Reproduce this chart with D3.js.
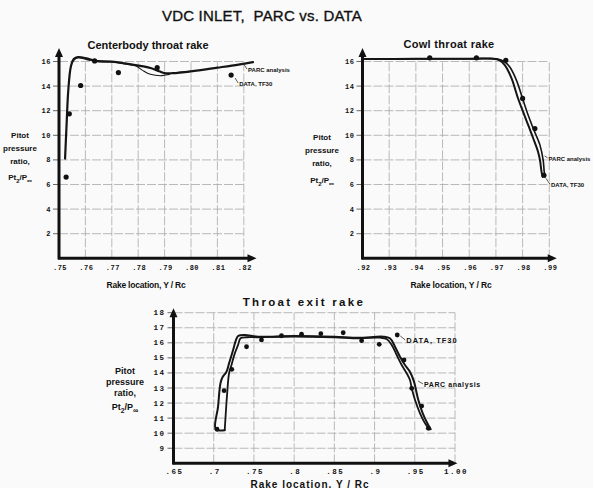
<!DOCTYPE html>
<html><head><meta charset="utf-8">
<script src="https://cdn.jsdelivr.net/npm/d3@7"></script>
<style>
html,body{margin:0;padding:0;background:#fafafa;}
svg{display:block;}
text{font-family:"Liberation Sans",Arial,sans-serif;fill:#111;white-space:pre;}
</style></head>
<body>
<svg id="c" width="593" height="488"></svg>
<script>
// ---------- DATA ----------
const mainTitle = "VDC INLET,  PARC vs. DATA";
const yLabelLines = ["Pitot", "pressure", "ratio,"];

// Centerbody throat rake
const cbTitle = "Centerbody throat rake";
const cbTicksX = [0.75, 0.76, 0.77, 0.78, 0.79, 0.80, 0.81, 0.82];
const cbTickLabelsX = [".75", ".76", ".77", ".78", ".79", ".80", ".81", ".82"];
const topTicksY = [2, 4, 6, 8, 10, 12, 14, 16];
const topTickLabelsY = ["2", "4", "6", "8", "10", "12", "14", "16"];
const cbDataX = [0.7527, 0.7539, 0.7582, 0.7635, 0.7725, 0.7872, 0.8152];
const cbDataY = [6.6, 11.75, 14.05, 16.05, 15.1, 15.5, 14.9];
const cbParcAX = [0.7523, 0.7529, 0.7535, 0.7545, 0.7556, 0.7572, 0.7605, 0.764, 0.770, 0.775, 0.779, 0.782, 0.785, 0.788, 0.790, 0.793, 0.800, 0.810, 0.818, 0.8235];
const cbParcAY = [8.1, 11.0, 13.6, 15.6, 16.2, 16.35, 16.25, 16.05, 16.0, 15.85, 15.7, 15.6, 15.45, 15.2, 15.05, 15.05, 15.2, 15.5, 15.75, 15.95];
const cbParcBX = [0.7545, 0.7556, 0.7572, 0.7605, 0.764, 0.770, 0.775, 0.779, 0.7815, 0.784, 0.7865, 0.789, 0.791, 0.793, 0.800];
const cbParcBY = [15.6, 16.1, 16.3, 16.15, 16.0, 15.95, 15.8, 15.65, 15.3, 15.0, 14.88, 14.85, 14.92, 15.05, 15.2];

// Cowl throat rake
const cwTitle = "Cowl throat rake";
const cwTicksX = [0.92, 0.93, 0.94, 0.95, 0.96, 0.97, 0.98, 0.99];
const cwTickLabelsX = [".92", ".93", ".94", ".95", ".96", ".97", ".98", ".99"];
const cwDataX = [0.9452, 0.9627, 0.9737, 0.9800, 0.9846, 0.9880];
const cwDataY = [16.3, 16.3, 16.1, 13.0, 10.55, 6.75];
const cwParcAX = [0.920, 0.940, 0.960, 0.9677, 0.9714, 0.9734, 0.9759, 0.9783, 0.9802, 0.9821, 0.9840, 0.9858, 0.9865, 0.9871, 0.9875];
const cwParcAY = [16.2, 16.22, 16.23, 16.23, 16.1, 15.69, 14.61, 12.99, 11.9, 10.82, 9.74, 8.65, 7.98, 7.03, 6.62];
const cwParcBX = [0.920, 0.940, 0.960, 0.9702, 0.9734, 0.9752, 0.9777, 0.9802, 0.9821, 0.9840, 0.9865, 0.9877, 0.9881, 0.9884];
const cwParcBY = [16.18, 16.2, 16.2, 16.23, 15.96, 15.55, 14.47, 12.85, 11.63, 10.55, 9.2, 7.98, 7.03, 6.62];

// Throat exit rake
const exTitle = "Throat exit rake";
const exTicksX = [0.65, 0.70, 0.75, 0.80, 0.85, 0.90, 0.95, 1.00];
const exTickLabelsX = [".65", ".7", ".75", ".8", ".85", ".9", ".95", "1.00"];
const exTicksY = [9, 10, 11, 12, 13, 14, 15, 16, 17, 18];
const exTickLabelsY = ["9", "10", "11", "12", "13", "14", "15", "16", "17", "18"];
const exDataX = [0.7041, 0.7129, 0.7225, 0.7408, 0.7594, 0.7843, 0.8092, 0.8332, 0.8610, 0.8839, 0.9058, 0.9282, 0.9366, 0.9462, 0.9586, 0.9668];
const exDataY = [10.26, 12.82, 14.24, 15.74, 16.19, 16.47, 16.57, 16.61, 16.67, 16.14, 15.90, 16.52, 14.86, 12.98, 11.80, 10.32];
const exParcAX = [0.7137, 0.7025, 0.7054, 0.7084, 0.7109, 0.7159, 0.7191, 0.7241, 0.7274, 0.7303, 0.7386, 0.7552, 0.800, 0.850, 0.880, 0.9108, 0.9191, 0.9254, 0.9316, 0.9378, 0.9440, 0.9490, 0.9515, 0.9544, 0.9599, 0.9656, 0.9698];
const exParcAY = [10.2, 10.26, 11.76, 13.31, 13.71, 14.08, 14.64, 15.52, 16.14, 16.45, 16.52, 16.41, 16.45, 16.4, 16.33, 16.41, 16.30, 15.74, 15.08, 14.53, 14.08, 13.42, 12.87, 12.20, 11.32, 10.66, 10.26];
const exParcBX = [0.7137, 0.7150, 0.7166, 0.7191, 0.7221, 0.7262, 0.7303, 0.7333, 0.7408, 0.7552, 0.800, 0.850, 0.880, 0.9067, 0.9150, 0.9213, 0.9275, 0.9337, 0.9399, 0.9440, 0.9462, 0.9503, 0.9565, 0.9627, 0.9681];
const exParcBY = [10.21, 11.32, 12.54, 13.98, 14.53, 15.30, 15.86, 16.30, 16.37, 16.37, 16.42, 16.37, 16.3, 16.34, 16.25, 15.86, 15.19, 14.53, 13.98, 13.53, 12.98, 12.20, 11.32, 10.66, 10.26];

const legendParc = "PARC analysis";
const legendData = "DATA, TF30";
const xAxisTitle = "Rake location, Y / Rc";

// ---------- DRAW ----------
const svg = d3.select("#c");
svg.append("rect").attr("width", 593).attr("height", 488).attr("fill", "#fafafa");

svg.append("text").attr("x", 262).attr("y", 21).attr("text-anchor", "middle")
  .attr("xml:space", "preserve")
  .style("font-size", "15px").style("letter-spacing", "0.2px")
  .attr("stroke", "#111").attr("stroke-width", 0.35)
  .text(mainTitle);

function zip(xs, ys) { return xs.map((x, i) => [x, ys[i]]); }

function panel(o) {
  const g = svg.append("g");
  const x = d3.scaleLinear().domain(o.xd).range(o.xr);
  const y = d3.scaleLinear().domain(o.yd).range(o.yr);
  const x0 = o.xr[0], y0 = o.yr[0];
  const xEnd = x(o.xTicks[o.xTicks.length - 1]);
  const yTop = y(o.yTicks[o.yTicks.length - 1]);
  // grid
  const grid = g.append("g").attr("stroke", "#a8a8a8").attr("stroke-width", 0.8).attr("stroke-dasharray", "9,2");
  o.yTicks.forEach(t => grid.append("line").attr("x1", x0).attr("x2", xEnd).attr("y1", y(t)).attr("y2", y(t)));
  o.xTicks.slice(1).forEach(t => grid.append("line").attr("x1", x(t)).attr("x2", x(t)).attr("y1", y0).attr("y2", yTop));
  // y ticks and labels
  o.yTicks.forEach((t, i) => {
    g.append("line").attr("x1", x0 - 6).attr("x2", x0).attr("y1", y(t)).attr("y2", y(t)).attr("stroke", "#444").attr("stroke-width", 0.8);
    g.append("text").attr("x", x0 - 8).attr("y", y(t) + 2.5).attr("text-anchor", "end")
      .style("font-size", o.tickFs + "px").style("font-weight", "bold").style("letter-spacing", o.tickLs + "px")
      .style("font-family", "'Liberation Mono',monospace").text(o.yLabels[i]);
  });
  o.xTicks.forEach((t, i) => {
    g.append("text").attr("x", x(t) + 1).attr("y", y0 + o.xLabOff).attr("text-anchor", "middle")
      .style("font-size", o.tickFs + "px").style("font-weight", "bold").style("letter-spacing", o.tickLs + "px")
      .style("font-family", "'Liberation Mono',monospace").text(o.xLabels[i]);
  });
  // lines
  const line = d3.line().x(d => x(d[0])).y(d => y(d[1])).curve(d3.curveCatmullRom.alpha(0.5));
  o.lines.forEach(L => {
    g.append("path").attr("d", line(zip(L.x, L.y))).attr("fill", "none")
      .attr("stroke", "#151515").attr("stroke-width", L.w).attr("stroke-linejoin", "round").attr("stroke-linecap", "round");
  });
  // data points
  zip(o.dx, o.dy).forEach(p => {
    g.append("circle").attr("cx", x(p[0])).attr("cy", y(p[1])).attr("r", o.r).attr("fill", "#111");
  });
  // axes
  const axTop = y(o.yArrow), axRight = x(o.xArrow);
  g.append("line").attr("x1", x0).attr("x2", x0).attr("y1", y0 + 1).attr("y2", axTop + 4).attr("stroke", "#111").attr("stroke-width", 3);
  g.append("line").attr("x1", x0 - 1).attr("x2", axRight - 4).attr("y1", y0).attr("y2", y0).attr("stroke", "#111").attr("stroke-width", 3);
  g.append("path").attr("d", `M${x0},${axTop} L${x0 - 4},${axTop + 9} L${x0 + 4},${axTop + 9} Z`).attr("fill", "#111");
  g.append("path").attr("d", `M${axRight},${y0} L${axRight - 9},${y0 - 4} L${axRight - 9},${y0 + 4} Z`).attr("fill", "#111");
  // titles
  g.append("text").attr("x", o.titlePos[0]).attr("y", o.titlePos[1]).attr("text-anchor", "middle")
    .style("font-size", o.titleFs + "px").style("font-weight", "bold").style("letter-spacing", o.titleLs + "px").text(o.title);
  g.append("text").attr("x", o.xtPos[0]).attr("y", o.xtPos[1]).attr("text-anchor", "middle")
    .style("font-size", o.xtFs + "px").style("font-weight", "bold").style("letter-spacing", o.xtLs + "px").text(xAxisTitle);
  // y label
  const yl = g.append("g").attr("transform", `translate(${o.ylPos[0]},${o.ylPos[1]})`);
  yLabelLines.forEach((s, i) => yl.append("text").attr("x", 0).attr("y", i * o.ylStep).attr("text-anchor", "middle")
    .style("font-size", o.ylFs + "px").style("font-weight", "bold").text(s));
  const pt = yl.append("text").attr("x", 0).attr("y", 3 * o.ylStep + o.ylExtra).attr("text-anchor", "middle")
    .style("font-size", o.ylFs + "px").style("font-weight", "bold");
  pt.append("tspan").text("Pt");
  pt.append("tspan").attr("dy", 3).style("font-size", (o.ylFs * 0.75) + "px").text("2");
  pt.append("tspan").attr("dy", -3).text("/P");
  pt.append("tspan").attr("dy", 3).style("font-size", (o.ylFs * 0.85) + "px").text("\u221E");
  // legends
  o.legends.forEach(Lg => {
    const ax = x(Lg.at[0]) + Lg.off[0], ay = y(Lg.at[1]) + Lg.off[1];
    g.append("line").attr("x1", ax).attr("y1", ay).attr("x2", ax + Lg.lead[0]).attr("y2", ay + Lg.lead[1])
      .attr("stroke", "#333").attr("stroke-width", 0.8);
    g.append("text").attr("x", ax + Lg.lead[0] + 1).attr("y", ay + Lg.lead[1] + Lg.fs * 0.45)
      .style("font-size", Lg.fs + "px").style("font-weight", "bold").style("letter-spacing", Lg.ls + "px").text(Lg.text);
  });
}

panel({
  xd: [0.75, 0.82], xr: [59, 243.8], yd: [0, 16], yr: [258.3, 61.5],
  xTicks: cbTicksX, xLabels: cbTickLabelsX, yTicks: topTicksY, yLabels: topTickLabelsY,
  xArrow: 0.8248, yArrow: 17.1, tickFs: 7, tickLs: 0.5, xLabOff: 12,
  lines: [{ x: cbParcAX, y: cbParcAY, w: 2.2 }, { x: cbParcBX, y: cbParcBY, w: 1.1 }],
  dx: cbDataX, dy: cbDataY, r: 2.6,
  title: cbTitle, titlePos: [148, 49], titleFs: 11, titleLs: 0,
  xtPos: [146, 288], xtFs: 8.5, xtLs: -0.2,
  ylPos: [20, 138], ylStep: 13, ylExtra: 3, ylFs: 8,
  legends: [
    { at: [0.8235, 15.95], off: [-10, 1], lead: [4, 6], text: legendParc, fs: 6, ls: 0 },
    { at: [0.8152, 14.9], off: [4, 3], lead: [3, 5], text: legendData, fs: 6, ls: 0 }
  ]
});

panel({
  xd: [0.92, 0.99], xr: [362.5, 549.3], yd: [0, 16], yr: [258.3, 61.5],
  xTicks: cwTicksX, xLabels: cwTickLabelsX, yTicks: topTicksY, yLabels: topTickLabelsY,
  xArrow: 0.9928, yArrow: 17.1, tickFs: 7, tickLs: 0.5, xLabOff: 12,
  lines: [{ x: cwParcAX, y: cwParcAY, w: 2.0 }, { x: cwParcBX, y: cwParcBY, w: 1.6 }],
  dx: cwDataX, dy: cwDataY, r: 2.6,
  title: cwTitle, titlePos: [449, 48], titleFs: 11, titleLs: 0.3,
  xtPos: [451, 288], xtFs: 8.5, xtLs: -0.1,
  ylPos: [322, 140], ylStep: 13, ylExtra: 4, ylFs: 8,
  legends: [
    { at: [0.9871, 7.03], off: [3, -16], lead: [3, 2], text: legendParc, fs: 6, ls: 0 },
    { at: [0.9880, 6.75], off: [2, 3], lead: [4, 6], text: legendData, fs: 6, ls: 0 }
  ]
});

panel({
  xd: [0.65, 1.0], xr: [173.5, 455], yd: [8, 18], yr: [463.3, 312.7],
  xTicks: exTicksX, xLabels: exTickLabelsX, yTicks: exTicksY, yLabels: exTickLabelsY,
  xArrow: 1.003, yArrow: 18.3, tickFs: 7.5, tickLs: 1.5, xLabOff: 10.5,
  lines: [{ x: exParcAX, y: exParcAY, w: 2.0 }, { x: exParcBX, y: exParcBY, w: 1.8 }],
  dx: exDataX, dy: exDataY, r: 2.4,
  title: exTitle, titlePos: [304, 306], titleFs: 11.5, titleLs: 2.3,
  xtPos: [310, 487.5], xtFs: 10, xtLs: 1.0,
  ylPos: [125, 374], ylStep: 11, ylExtra: 3, ylFs: 9,
  legends: [
    { at: [0.9282, 16.52], off: [3, 1], lead: [5, 4], text: legendData, fs: 7.5, ls: 1 },
    { at: [0.9515, 12.87], off: [2, -9], lead: [5, 3], text: legendParc, fs: 7, ls: 0.6 }
  ]
});
</script>
</body></html>
